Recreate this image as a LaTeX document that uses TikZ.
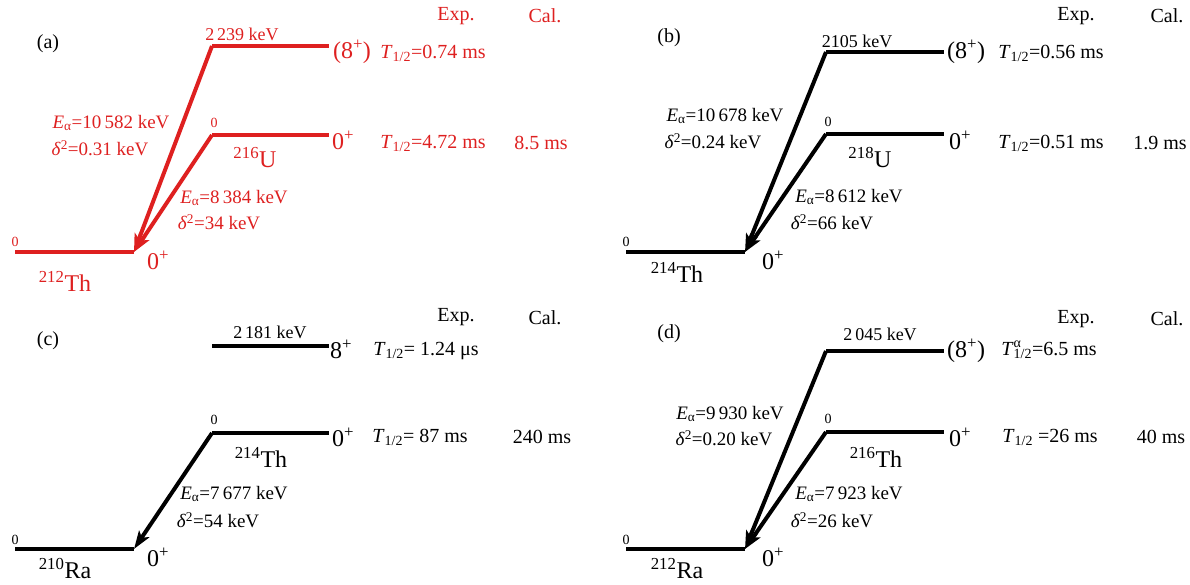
\documentclass[tikz,border=0pt]{standalone}
\usepackage{fontspec}
\setmainfont{Liberation Serif}
\usepackage{xcolor}
\usetikzlibrary{arrows.meta}
\definecolor{decayred}{RGB}{222,32,32}
\newcommand{\thalf}{\textit{T}\textsubscript{1/2}}
\newcommand{\thalfa}{\textit{T}\rlap{\textsuperscript{α}}\textsubscript{1/2}}
\newcommand{\Ea}{\textit{E}\textsubscript{α}}
\newcommand{\dsq}{\textit{δ}\textsuperscript{2}}
\begin{document}
\begin{tikzpicture}[
  x=1pt, y=-1pt,
  level/.style={line width=4.5pt},
  decay/.style={line width=4pt, -{Stealth[length=18pt, width=12pt, inset=4pt]}},
  lab/.style={inner sep=0pt, font=\fontsize{20}{24}\selectfont},
  spin/.style={inner sep=0pt, font=\fontsize{24}{28}\selectfont},
  nuc/.style={inner sep=0pt, font=\fontsize{24}{28}\selectfont},
  ea/.style={inner sep=0pt, font=\fontsize{19}{23}\selectfont},
  kev/.style={inner sep=0pt, font=\fontsize{18}{22}\selectfont},
  zero/.style={inner sep=0pt, font=\fontsize{14}{17}\selectfont}
]
  \useasboundingbox (0,0) rectangle (1190,584);

  % (a) 216U -> 212Th
  \begin{scope}[color=decayred]
    \coordinate (aUl) at (212,46);  \coordinate (aUr) at (329,46);
    \coordinate (aMl) at (212,135); \coordinate (aMr) at (329,135);
    \coordinate (aGl) at (15,252);  \coordinate (aGr) at (134,252);
    \draw[level] (aUl) -- (aUr);
    \draw[level] (aMl) -- (aMr);
    \draw[level] (aGl) -- (aGr);
    \draw[decay] (aUl) -- (aGr);
    \draw[decay] (aMl) -- (aGr);
    \node[kev] (aEU) at (242,34) {2\,239 keV};
    \node[spin] (aJU) at (352,52) {(8\textsuperscript{+})};
    \node[lab] (aTU) at (433,53) {\thalf=0.74 ms};
    \node[zero] (aEM) at (214,123) {0};
    \node[spin] (aJM) at (343,140) {0\textsuperscript{+}};
    \node[nuc] (aNM) at (255,158) {\textsuperscript{216}U};
    \node[lab] (aTM) at (433,143) {\thalf=4.72 ms};
    \node[lab] (aCM) at (541,143) {8.5 ms};
    \node[ea] (aEaU) at (111,123) {\Ea=10\,582 keV};
    \node[ea] (aDU) at (100,148) {\dsq=0.31 keV};
    \node[ea] (aEaM) at (234,198) {\Ea=8\,384 keV};
    \node[ea] (aDM) at (219,222) {\dsq=34 keV};
    \node[zero] (aEG) at (15,242) {0};
    \node[spin] (aJG) at (158,260) {0\textsuperscript{+}};
    \node[nuc] (aNG) at (65,281) {\textsuperscript{212}Th};
    \node[lab] (aExp) at (456,16) {Exp.};
    \node[lab] (aCal) at (545,16) {Cal.};
  \end{scope}
  \node[lab] (aTag) at (48,44) {(a)};

  % (b) 218U -> 214Th
  \coordinate (bUl) at (826,52);  \coordinate (bUr) at (944,52);
  \coordinate (bMl) at (826,134); \coordinate (bMr) at (944,134);
  \coordinate (bGl) at (626,252); \coordinate (bGr) at (745,252);
  \draw[level] (bUl) -- (bUr);
  \draw[level] (bMl) -- (bMr);
  \draw[level] (bGl) -- (bGr);
  \draw[decay] (bUl) -- (bGr);
  \draw[decay] (bMl) -- (bGr);
  \node[lab] (bTag) at (669,38) {(b)};
  \node[lab] (bExp) at (1076,16) {Exp.};
  \node[lab] (bCal) at (1167,16) {Cal.};
  \node[kev] (bEU) at (857,41) {2105 keV};
  \node[spin] (bJU) at (966,52) {(8\textsuperscript{+})};
  \node[lab] (bTU) at (1051,53) {\thalf=0.56 ms};
  \node[zero] (bEM) at (828,122) {0};
  \node[spin] (bJM) at (960,140) {0\textsuperscript{+}};
  \node[nuc] (bNM) at (870,158) {\textsuperscript{218}U};
  \node[lab] (bTM) at (1051,143) {\thalf=0.51 ms};
  \node[lab] (bCM) at (1160,143) {1.9 ms};
  \node[ea] (bEaU) at (725,116) {\Ea=10\,678 keV};
  \node[ea] (bDU) at (713,141) {\dsq=0.24 keV};
  \node[ea] (bEaM) at (849,197) {\Ea=8\,612 keV};
  \node[ea] (bDM) at (832,222) {\dsq=66 keV};
  \node[zero] (bEG) at (626,242) {0};
  \node[spin] (bJG) at (773,260) {0\textsuperscript{+}};
  \node[nuc] (bNG) at (677,272) {\textsuperscript{214}Th};

  % (c) 214Th -> 210Ra
  \coordinate (cUl) at (212,346); \coordinate (cUr) at (329,346);
  \coordinate (cMl) at (212,433); \coordinate (cMr) at (329,433);
  \coordinate (cGl) at (15,549);  \coordinate (cGr) at (134,549);
  \draw[level] (cUl) -- (cUr);
  \draw[level] (cMl) -- (cMr);
  \draw[level] (cGl) -- (cGr);
  \draw[decay] (cMl) -- (cGr);
  \node[lab] (cTag) at (48,341) {(c)};
  \node[lab] (cExp) at (456,317) {Exp.};
  \node[lab] (cCal) at (545,318) {Cal.};
  \node[kev] (cEU) at (270,332) {2\,181 keV};
  \node[spin] (cJU) at (341,349) {8\textsuperscript{+}};
  \node[lab] (cTU) at (426,351) {\thalf= 1.24 μs};
  \node[zero] (cEM) at (214,420) {0};
  \node[spin] (cJM) at (343,437) {0\textsuperscript{+}};
  \node[nuc] (cNM) at (261,457) {\textsuperscript{214}Th};
  \node[lab] (cTM) at (420,437) {\thalf= 87 ms};
  \node[lab] (cCM) at (542,437) {240 ms};
  \node[ea] (cEaM) at (234,494) {\Ea=7\,677 keV};
  \node[ea] (cDM) at (218,520) {\dsq=54 keV};
  \node[zero] (cEG) at (15,540) {0};
  \node[spin] (cJG) at (158,557) {0\textsuperscript{+}};
  \node[nuc] (cNG) at (65,569) {\textsuperscript{210}Ra};

  % (d) 216Th -> 212Ra
  \coordinate (dUl) at (826,351); \coordinate (dUr) at (944,351);
  \coordinate (dMl) at (826,432); \coordinate (dMr) at (944,432);
  \coordinate (dGl) at (626,549); \coordinate (dGr) at (745,549);
  \draw[level] (dUl) -- (dUr);
  \draw[level] (dMl) -- (dMr);
  \draw[level] (dGl) -- (dGr);
  \draw[decay] (dUl) -- (dGr);
  \draw[decay] (dMl) -- (dGr);
  \node[lab] (dTag) at (669,334) {(d)};
  \node[lab] (dExp) at (1076,319) {Exp.};
  \node[lab] (dCal) at (1167,319) {Cal.};
  \node[kev] (dEU) at (880,334) {2\,045 keV};
  \node[spin] (dJU) at (966,351) {(8\textsuperscript{+})};
  \node[lab] (dTU) at (1049,350) {\thalfa=6.5 ms};
  \node[zero] (dEM) at (828,419) {0};
  \node[spin] (dJM) at (960,437) {0\textsuperscript{+}};
  \node[nuc] (dNM) at (876,457) {\textsuperscript{216}Th};
  \node[lab] (dTM) at (1050,437) {\thalf\ =26 ms};
  \node[lab] (dCM) at (1161,437) {40 ms};
  \node[ea] (dEaU) at (730,414) {\Ea=9\,930 keV};
  \node[ea] (dDU) at (724,438) {\dsq=0.20 keV};
  \node[ea] (dEaM) at (849,494) {\Ea=7\,923 keV};
  \node[ea] (dDM) at (832,520) {\dsq=26 keV};
  \node[zero] (dEG) at (626,540) {0};
  \node[spin] (dJG) at (773,557) {0\textsuperscript{+}};
  \node[nuc] (dNG) at (677,569) {\textsuperscript{212}Ra};
\end{tikzpicture}
\end{document}
